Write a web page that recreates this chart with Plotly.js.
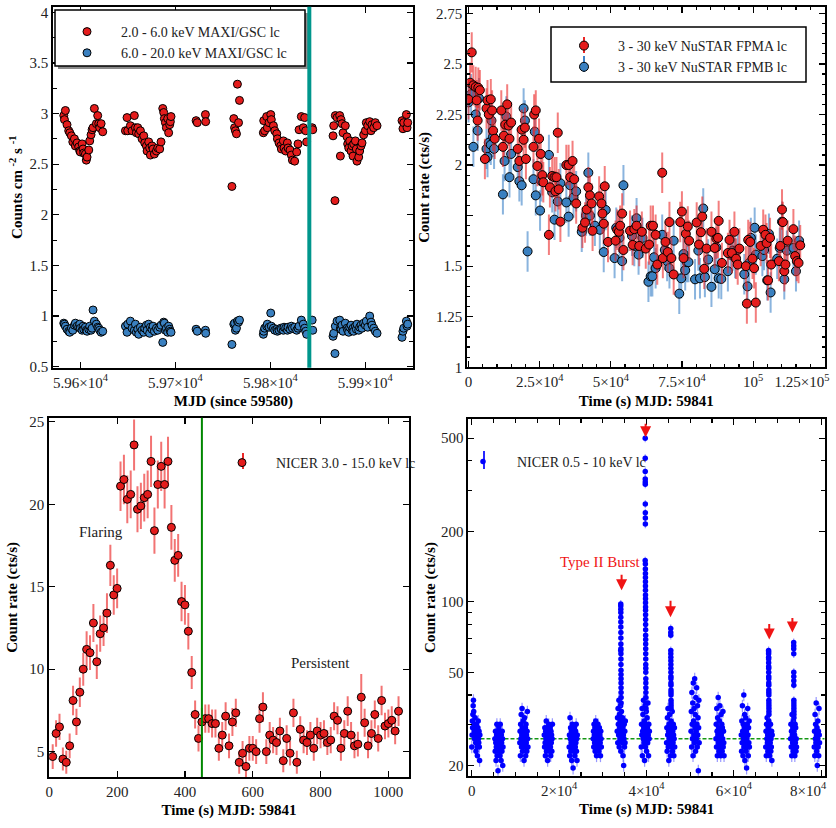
<!DOCTYPE html>
<html>
<head>
<meta charset="utf-8">
<script src="https://cdn.plot.ly/plotly-3.0.1.min.js"></script>
<style>
  html, body { margin: 0; padding: 0; background: #fff; }
  #chart { width: 836px; height: 828px; }
</style>
</head>
<body>
<div id="chart"></div>
<script>
// ---------- MAXI/GSC daily light curve (top left) ----------
const maxiMjd = [
  59582.5,59583.2,59584.2,59585.9,59587.7,59588.8,59590.5,59592.0,59593.7,59594.7,59596.5,59598.2,59599.3,59600.0,59601.8,59602.8,59603.5,59605.3,59606.2,59607.0,59608.8,59609.8,59611.2,59612.3,59613.3,59614.7,59616.8,59618.2,59619.3,59620.3,59621.8,59623.5,
  59647.4,59649.1,59649.8,59652.6,59654.4,59656.8,59657.9,59658.9,59660.4,59661.4,59663.2,59664.9,59666.7,59667.7,59669.5,59670.2,59671.9,59672.9,59673.7,59675.4,59676.5,59677.9,59680.0,59681.4,59683.5,59684.9,59686.7,59687.7,59688.4,59689.5,59690.5,59691.9,59692.9,59694.0,59694.7,59695.4,
  59721.8,59723.0,59731.6,59731.9,
  59759.5,59761.5,59762.3,59763.2,59764.3,59765.3,59766.5,59767.5,
  59792.6,59793.0,59794.0,59796.1,59796.8,59798.6,59800.4,59801.0,59803.2,59804.6,59806.7,59807.4,59809.1,59810.9,59811.6,59813.7,59814.4,59816.1,59817.9,59818.6,59820.7,59822.1,59823.2,59825.6,59827.7,59829.1,59830.2,59832.6,59834.7,59836.1,59837.2,59838.2,
  59844.0,59844.6,
  59866.0,59866.7,59868.0,59868.4,59870.2,59873.0,59873.7,59874.4,59875.4,59876.5,59878.9,59880.7,59881.4,59882.5,59883.5,59884.9,59886.0,59887.0,59887.7,59889.5,59890.5,59891.2,59893.0,59894.0,59895.4,59896.5,59898.2,59900.0,59901.0,59902.5,59904.6,59906.0,59907.0,59908.8,59910.5,59912.3,
  59938.6,59939.6,59940.4,59943.2,59943.9,59944.6
];
const maxiSoft = [
  2.98,2.94,3.03,2.89,2.83,2.81,2.78,2.72,2.75,2.68,2.71,2.67,2.63,2.62,2.70,2.65,2.61,2.60,2.54,2.57,2.64,2.73,2.79,2.84,2.86,3.05,2.90,2.98,2.90,2.86,2.90,2.82,
  2.83,2.96,2.83,2.88,2.83,2.98,2.86,2.81,2.86,2.80,2.83,2.75,2.78,2.71,2.68,2.63,2.72,2.66,2.59,2.68,2.65,2.60,2.63,2.66,2.65,2.72,3.05,3.01,2.95,2.91,2.86,2.95,2.81,2.89,2.92,2.97,
  2.93,2.91,2.99,2.92,
  2.28,2.95,2.86,2.83,2.80,3.29,2.91,3.13,
  2.81,2.93,2.83,2.97,2.86,2.91,2.99,2.94,2.88,2.83,2.80,2.75,2.71,2.68,2.65,2.73,2.66,2.63,2.71,2.66,2.64,2.59,2.54,2.53,2.62,2.70,2.84,2.97,2.86,2.96,2.83,2.72,
  2.86,2.84,
  2.78,2.88,2.14,2.98,2.96,2.98,2.58,2.94,2.90,2.81,2.88,2.77,2.70,2.66,2.73,2.63,2.68,2.58,2.70,2.73,2.65,2.53,2.57,2.63,2.68,2.71,2.79,2.83,2.91,2.88,2.92,2.83,2.89,2.86,2.91,2.88,
  2.93,2.85,2.91,2.99,2.86,2.91
];
const maxiHard = [
  0.93,0.92,0.90,0.87,0.85,0.84,0.88,0.86,0.91,0.93,0.90,0.89,0.92,0.88,0.86,0.90,0.87,0.89,0.86,0.85,0.87,0.90,0.86,0.88,1.06,0.95,0.92,0.89,0.88,0.86,0.84,0.85,
  0.90,0.84,0.92,0.95,0.88,0.86,0.92,0.84,0.87,0.82,0.89,0.86,0.84,0.88,0.91,0.86,0.92,0.83,0.89,0.87,0.90,0.85,0.88,0.86,0.89,0.91,0.74,0.94,0.93,0.86,0.88,0.84,0.90,0.87,0.85,0.84,
  0.87,0.85,0.86,0.83,
  0.72,0.92,0.93,0.86,0.88,0.95,0.94,0.96,
  0.82,0.85,0.88,0.90,0.92,0.89,1.03,0.90,0.88,0.86,0.87,0.85,0.86,0.88,0.87,0.86,0.89,0.88,0.86,0.89,0.87,0.90,0.88,0.89,0.86,0.88,0.90,0.96,0.92,0.88,0.85,0.82,
  0.96,0.86,
  0.80,0.83,0.63,0.90,0.95,0.96,0.88,0.87,0.91,0.85,0.93,0.88,0.86,0.84,0.89,0.91,0.86,0.88,0.85,0.90,0.87,0.92,0.86,0.89,0.91,0.88,0.93,0.91,0.95,0.89,1.00,0.94,0.91,0.88,0.85,0.83,
  0.79,0.85,0.88,0.95,0.90,0.92
];
const maxiMarkMjd = 59841;   // day of the NuSTAR / NICER pointings
const maxiTickVals = [59600, 59700, 59800, 59900];
const maxiTickText = ['5.96×10<sup>4</sup>', '5.97×10<sup>4</sup>', '5.98×10<sup>4</sup>', '5.99×10<sup>4</sup>'];

// ---------- NuSTAR 3-30 keV light curves (top right) ----------
const fpmaTime = [
  0,580,1150,1700,2540,2900,3230,3460,4000,5770,6340,6690,7150,7840,8300,8650,9220,11530,12100,12450,
  12900,13600,14070,14400,14990,17300,17870,18680,19370,19830,20180,22830,23060,23640,24210,24790,25370,25940,26290,28250,
  28600,29400,30200,30550,30900,31360,31700,32280,34360,35170,35740,36550,37130,37820,40010,40930,41510,42090,42660,43240,
  43580,45890,46700,47040,47500,47850,49000,51650,52230,52810,53270,53960,54420,56730,57650,58230,59030,59960,60880,62260,
  63420,63990,64800,65720,66300,68030,68260,69180,69990,70570,71260,72060,74370,74950,75520,76330,77020,77480,80140,80940,
  81630,82090,82790,83600,85320,86470,87050,87630,87860,89010,91090,91670,92470,93390,93970,94550,95130,97420,97770,98230,
  98930,99730,100300,100900,102600,103500,104300,104700,105200,105900,106300,109000,109500,110100,110400,110900,111300,112100,114100,114700,
  115300,115900,116500
];
const fpmaRate = [
  2.325,2.407,2.557,2.394,2.386,2.32,2.22,2.382,2.37,2.03,2.28,2.32,2.25,2.325,2.27,2.17,2.13,2.27,2.09,2.145,
  2.20,2.30,2.195,2.13,2.21,2.08,2.02,2.175,2.125,2.185,2.03,2.09,2.25,2.27,1.995,2.13,2.055,1.95,1.915,1.655,
  1.89,1.946,1.94,1.87,1.94,2.16,1.88,1.72,2.0,2.0,1.94,2.02,1.93,1.81,1.69,1.716,1.78,1.89,1.85,1.81,
  1.675,1.845,1.81,1.76,1.71,1.895,1.62,1.626,1.68,1.67,1.70,1.76,1.58,1.675,1.605,1.683,1.70,1.60,1.67,1.587,
  1.607,1.70,1.70,1.655,1.508,1.962,1.54,1.62,1.57,1.718,1.54,1.459,1.718,1.77,1.54,1.66,1.696,1.626,1.716,1.607,
  1.668,1.745,1.487,1.587,1.67,1.59,1.636,1.64,1.724,1.516,1.565,1.63,1.565,1.67,1.537,1.508,1.587,1.50,1.315,1.63,
  1.62,1.537,1.49,1.32,1.60,1.68,1.655,1.614,1.43,1.64,1.508,1.525,1.60,1.78,1.718,1.475,1.508,1.626,1.683,1.55,
  1.525,1.516,1.603
];
const fpmbTime = [
  0,920,1730,2540,3230,3690,6340,6690,7150,7840,8070,8650,8990,12100,12680,13260,14400,14990,17300,17870,
  18680,19370,19830,20760,22830,23290,23640,25140,25600,28250,29400,30200,31360,32280,34360,35170,35740,36900,37820,39780,
  41280,42090,42660,44390,46120,47500,48190,51310,51880,53040,53960,54420,57420,58230,59030,59730,61110,63190,63990,64570,
  65140,65720,68030,68950,69760,70570,72060,74020,74720,75520,76100,76680,77250,79560,80710,81290,82440,83020,84170,85320,
  86470,87050,87860,88780,91090,92010,92820,93620,94550,96850,98000,98580,99160,100500,100900,103200,103800,104900,105500,106100,
  108400,109300,110100,110900,111800,114100,115000,116100
];
const fpmbRate = [
  2.31,2.35,2.09,2.25,2.17,2.33,2.08,2.04,2.11,2.10,2.22,2.14,2.08,1.855,2.02,2.24,1.94,2.055,1.99,1.92,
  1.90,2.28,2.22,1.573,1.93,2.165,1.85,1.775,1.92,2.05,1.865,1.73,1.82,1.91,1.815,1.745,1.90,1.84,1.87,1.67,
  1.75,1.962,1.75,1.70,1.68,1.57,1.778,1.54,1.69,1.64,1.525,1.90,1.65,1.60,1.737,1.557,1.64,1.423,1.45,1.45,
  1.544,1.49,1.655,1.58,1.525,1.49,1.626,1.364,1.44,1.56,1.48,1.52,1.52,1.435,1.577,1.44,1.785,1.446,1.533,1.398,
  1.485,1.593,1.44,1.437,1.475,1.557,1.577,1.54,1.58,1.46,1.40,1.516,1.64,1.69,1.557,1.55,1.58,1.43,1.66,1.37,
  1.537,1.59,1.72,1.435,1.577,1.59,1.475,1.626
];
const nustarErr = 0.1;
const nustarTickVals = [0, 25000, 50000, 75000, 100000, 125000];
// the last label is padded so it stays inside the figure
const nustarTickText = ['0', '2.5×10<sup>4</sup>', '5×10<sup>4</sup>', '7.5×10<sup>4</sup>', '10<sup>5</sup>',
  '1.25×10<sup>5</sup>' + '\u00a0'.repeat(12)];
const nustarRateTicks = [1, 1.25, 1.5, 1.75, 2, 2.25, 2.5, 2.75];
const nustarRateText = ['1', '1.25', '1.5', '', '2', '2.25', '2.5', '2.75'];

// ---------- NICER 3-15 keV, 10 s bins (bottom left) ----------
const hardTime = [
  10,20,30,40,50,60,70,80,90,100,110,120,130,140,150,160,170,180,190,200,
  210,220,230,240,250,260,270,280,290,300,310,320,330,340,350,360,370,380,390,400,
  410,420,430,440,450,460,470,480,490,500,510,520,530,540,550,560,570,580,590,600,
  610,620,630,640,650,660,670,680,690,700,710,720,730,740,750,760,770,780,790,800,
  810,820,830,840,850,860,870,880,890,900,910,920,930,940,950,960,970,980,990,1000,
  1010,1020,1030
];
const hardRate = [
  4.7,6.1,6.5,4.55,4.35,5.35,8.1,6.8,8.6,10.0,11.2,11.0,12.8,10.45,12.15,12.5,13.4,16.3,14.5,14.9,
  21.1,21.5,20.3,20.6,23.6,19.7,19.9,20.4,20.6,22.6,18.4,21.2,22.3,21.2,22.6,18.6,16.6,16.9,14.1,13.9,
  12.3,9.8,7.25,5.8,6.8,7.0,7.0,6.7,6.7,5.2,6.0,7.15,5.35,6.8,7.35,4.35,4.9,4.1,5.2,5.2,
  5.0,7.0,7.7,5.0,6.0,5.7,5.55,6.25,4.45,5.8,4.9,7.35,4.35,6.35,5.7,5.55,6.0,5.2,6.25,6.0,
  6.1,5.55,5.7,7.15,6.9,5.2,6.1,7.45,6.0,5.35,5.45,8.3,6.75,5.35,6.1,7.25,5.8,8.1,6.55,6.7,
  6.9,6.25,7.45
];
const hardErr = [
  0.75,0.8,0.8,0.7,0.7,0.75,0.9,0.8,0.9,1.0,1.1,1.05,1.15,1.05,1.1,1.1,1.2,1.25,1.2,1.2,
  1.5,1.5,1.45,1.45,1.55,1.4,1.4,1.45,1.45,1.55,1.4,1.45,1.5,1.45,1.5,1.35,1.3,1.3,1.2,1.2,
  1.1,1.0,0.85,0.8,0.85,0.85,0.85,0.85,0.85,0.75,0.8,0.85,0.75,0.85,0.85,0.7,0.75,0.7,0.75,0.75,
  0.75,0.85,0.9,0.75,0.8,0.8,0.75,0.8,0.7,0.8,0.75,0.85,0.7,0.8,0.8,0.75,0.8,0.75,0.8,0.8,
  0.8,0.75,0.8,0.85,0.85,0.75,0.8,0.9,0.8,0.75,0.75,1.4,0.85,0.75,0.8,0.85,0.8,0.9,0.8,0.85,
  0.85,0.8,0.9
];
const flareEnd = 450;

// ---------- NICER 0.5-10 keV orbits (bottom right) ----------
const orbitStart = [0, 5300, 11000, 16600, 22300, 27800, 33300, 38800, 44600, 50200, 55900, 61700, 67300, 73000, 78400];
const orbitBin = 64;
const orbitRates = [
  [24,27,31,29,33,36,38,34,30,28,26,29,32,27,25,23,26,30,28,24,22,27,29,31,26,25,28,24,21,27],
  [26,23,28,25,21,24,27,30,22,25,28,19,24,26,29,23,27,25,22,30,26,24,21,27,25,23,28,26,20,24],
  [25,28,22,30,26,33,24,27,35,29,23,26,31,25,28,21,27,32,24,26,29,22,30,25,27,23,28,34,26,24],
  [27,24,29,25,22,28,26,31,23,27,25,29,21,26,28,24,30,25,27,23,26,29,24,22,28,25,27,23,26,30],
  [24,27,22,32,26,29,23,25,28,21,27,30,24,26,19.5,25,28,23,27,29,22,26,24,28,25,30,23,26,21,27],
  [26,28,24,30,27,25,29,23,27,31,25,28,22,26,29,24,27,30,25,28,23,26,29,24,27,25,22,28,26,24],
  [28,32,25,35,30,27,38,24,33,29,26,31,36,23,28,34,27,30,25,32,29,22,27,20,26,30,24,28,25,31],
  [24,30,27,35,22,28,33,26,38,29,25,31,21,27,36,24,30,28,34,23,26,32,29,25,37,27,22,30,26,28],
  [25,29,23,32,27,35,24,28,21,30,26,33,25,28,22,27,31,24,29,26,34,23,28,25,30,27,22,26,29,24],
  [28,34,24,41,30,26,37,22,45,31,27,35,25,47,29,33,23,39,28,26,43,30,24,36,27,32,19,29,38,25],
  [26,30,24,35,28,22,32,27,39,25,29,23,31,26,36,24,28,22,33,27,25,30,23,29,26,34,24,28,25,22],
  [27,23,31,25,36,28,22,30,26,40,24,29,33,21,27,25,32,23,28,19.5,26,30,24,35,27,22,29,25,31,24],
  [24,28,22,30,26,32,25,27,23,29,26,31,24,28,22,27,25,30,23,26,24,28,21,27],
  [26,30,24,28,22,33,27,25,29,23,31,26,28,24,27,22,30,25,29,23,26,24],
  [24,28,22,33,26,30,25,37,27,23,29,20,26,31,24,28,22,35,27,25]
];
// Type II bursts, 4 s bins
const burstStart = [34100, 39700, 45550, 67950, 73700];
const burstBin = 4;
const burstRates = [
  [62,98,96,93,90,86,82,78,74,70,66,63,60,57,54,51,49,47,45,43,41,39,37],
  [150,500,410,360,335,325,318,262,240,228,215,145,138,132,127,122,117,112,107,103,99,95,92,88,84,80,76,72,69,66,63,60,57,54,52,50,47,45,43,41,39,37,35],
  [77,74,72,62,60,58,56,54,52,50,48,47,45,44,42,41,40,38,37,36,35],
  [62,61,60,58,57,55,53,52,50,48,47,45,44,42,41,40,38,37,36,35,34,33],
  [67,65,63,60,50,48,46,44,38,37,36,35,34,33,32]
];
const persistentLevel = 26;
// burst markers: [time, rate at arrow tip, arrow length px]
const burstArrowTime = [34300, 39800, 45500, 68100, 73400];
const burstArrowRate = [112, 505, 86, 69, 74];
const burstArrowLen = [17, 15, 18, 17, 16];
const softTickVals = [0, 20000, 40000, 60000, 80000];
// the last label is padded so it stays inside the figure
const softTickText = ['0', '2×10<sup>4</sup>', '4×10<sup>4</sup>', '6×10<sup>4</sup>',
  '8×10<sup>4</sup>' + '\u00a0'.repeat(7)];
const softRateTicks = [20, 50, 100, 200, 500];
const softRateMinor = [30, 40, 60, 70, 80, 90, 300, 400];

// ---------- assemble ----------
const FONT = '"Liberation Serif", "DejaVu Serif", serif';
const RED = 'rgb(228,28,28)';
const BLUE = 'rgb(58,128,192)';

const orbitT = [], orbitR = [];
orbitRates.forEach((rates, k) => {
  rates.forEach((r, i) => { orbitT.push(orbitStart[k] + i * orbitBin); orbitR.push(r); });
});
const burstT = [], burstR = [];
burstRates.forEach((rates, k) => {
  rates.forEach((r, i) => { burstT.push(burstStart[k] + i * burstBin); burstR.push(r); });
});

const W = 836, H = 828;
const px = x => x / W;
const py = y => 1 - y / H;
const pad = '\u00a0\u00a0\u00a0\u00a0';

const dotRed = size => ({ color: RED, size: size, line: { color: '#000', width: 1 } });
const dotBlue = size => ({ color: BLUE, size: size, line: { color: '#000', width: 1 } });

const traces = [
  { type: 'scatter', mode: 'markers', x: maxiMjd, y: maxiSoft, xaxis: 'x', yaxis: 'y',
    name: pad + '2.0 - 6.0 keV MAXI/GSC lc', legend: 'legend', marker: dotRed(8) },
  { type: 'scatter', mode: 'markers', x: maxiMjd, y: maxiHard, xaxis: 'x', yaxis: 'y',
    name: pad + '6.0 - 20.0 keV MAXI/GSC lc', legend: 'legend', marker: dotBlue(8) },

  { type: 'scatter', mode: 'markers', x: fpmbTime, y: fpmbRate, xaxis: 'x2', yaxis: 'y2',
    name: pad + '3 - 30 keV NuSTAR FPMB lc', legend: 'legend2', legendrank: 2, marker: dotBlue(9),
    error_y: { type: 'constant', value: nustarErr, color: 'rgba(60,130,200,0.6)', thickness: 2, width: 0 } },
  { type: 'scatter', mode: 'markers', x: fpmaTime, y: fpmaRate, xaxis: 'x2', yaxis: 'y2',
    name: pad + '3 - 30 keV NuSTAR FPMA lc', legend: 'legend2', legendrank: 1, marker: dotRed(9),
    error_y: { type: 'constant', value: nustarErr, color: 'rgba(235,40,40,0.6)', thickness: 2, width: 0 } },

  { type: 'scatter', mode: 'markers', x: hardTime, y: hardRate, xaxis: 'x3', yaxis: 'y3',
    name: pad + 'NICER 3.0 - 15.0 keV lc', legend: 'legend3', marker: dotRed(8),
    error_y: { type: 'data', array: hardErr, color: 'rgba(235,40,40,0.65)', thickness: 2, width: 0 } },

  { type: 'scatter', mode: 'lines', x: [-750, 80800], y: [persistentLevel, persistentLevel],
    xaxis: 'x4', yaxis: 'y4', showlegend: false, hoverinfo: 'skip',
    line: { color: 'rgb(20,150,20)', width: 1.5, dash: '4px,2px' } },
  { type: 'scatter', mode: 'markers', x: orbitT, y: orbitR, xaxis: 'x4', yaxis: 'y4',
    name: pad + 'NICER 0.5 - 10 keV lc', legend: 'legend4',
    marker: { color: 'rgb(0,0,255)', size: 5.5 },
    error_y: { type: 'percent', value: 6, color: 'rgba(70,70,255,0.55)', thickness: 1.2, width: 0 } },
  { type: 'scatter', mode: 'markers', x: burstT, y: burstR, xaxis: 'x4', yaxis: 'y4', showlegend: false,
    marker: { color: 'rgb(0,0,255)', size: 5.5 },
    error_y: { type: 'percent', value: 4, color: 'rgba(70,70,255,0.55)', thickness: 1.2, width: 0 } }
];

function frame(extra) {
  return Object.assign({
    showline: true, linecolor: '#000', linewidth: 2, mirror: 'allticks',
    ticks: 'inside', ticklen: 6, tickwidth: 1.2, tickcolor: '#000',
    showgrid: false, zeroline: false, automargin: false,
    tickfont: { family: FONT, size: 15, color: '#222' }
  }, extra);
}
const titleFont = { family: FONT, size: 15, color: '#000', weight: 'bold' };

const legendBase = {
  xanchor: 'left', yanchor: 'top', bgcolor: 'rgba(0,0,0,0)', borderwidth: 0,
  font: { family: FONT, size: 14, color: '#222' }, tracegroupgap: 0, traceorder: 'normal'
};

const arrows = burstArrowTime.map((t, i) => ({
  xref: 'x4', yref: 'y4', x: t, y: Math.log10(burstArrowRate[i]), ax: 0, ay: -burstArrowLen[i],
  text: '', showarrow: true, arrowhead: 2, arrowsize: 1.1, arrowwidth: 2, arrowcolor: 'rgb(240,20,20)'
}));

// small vertical error-bar glyphs behind the legend symbols
const legendBar = (x, y, half, color) => ({
  type: 'line', xref: 'paper', yref: 'paper', x0: px(x), x1: px(x), y0: py(y - half), y1: py(y + half),
  line: { color: color, width: 2 }, layer: 'above'
});

const layout = {
  width: W, height: H,
  margin: { l: 0, r: 0, t: 0, b: 0 },
  paper_bgcolor: '#fff', plot_bgcolor: 'rgba(0,0,0,0)',
  showlegend: true,
  xaxis: frame({ domain: [0.0638, 0.4944], anchor: 'y', range: [59571.5, 59950.5],
    tickmode: 'array', tickvals: maxiTickVals, ticktext: maxiTickText,
    title: { text: 'MJD (since 59580)', font: titleFont, standoff: 6 } }),
  yaxis: frame({ domain: [0.5559, 0.9919], anchor: 'x', range: [0.49, 4.055], dtick: 0.5, tick0: 0,
    minor: { dtick: 0.25, ticks: 'inside', ticklen: 4, tickcolor: '#000' },
    title: { text: 'Counts cm\u00a0<sup>-2</sup>\u00a0s\u00a0<sup>-1</sup>', font: titleFont, standoff: 3 } }),

  xaxis2: frame({ domain: [0.559, 0.9872], anchor: 'y2', range: [-400, 125300],
    tickmode: 'array', tickvals: nustarTickVals, ticktext: nustarTickText, ticklabeloverflow: 'allow',
    minor: { dtick: 5000, ticks: 'inside', ticklen: 3, tickcolor: '#000' },
    title: { text: 'Time (s) MJD: 59841', font: titleFont, standoff: 6 } }),
  yaxis2: frame({ domain: [0.5564, 0.9912], anchor: 'x2', range: [1, 2.78],
    tickmode: 'array', tickvals: nustarRateTicks, ticktext: nustarRateText,
    minor: { dtick: 0.05, ticks: 'inside', ticklen: 3, tickcolor: '#000' },
    title: { text: 'Count rate (cts/s)', font: titleFont, standoff: 3 } }),

  xaxis3: frame({ domain: [0.059, 0.4889], anchor: 'y3', range: [0, 1060], dtick: 200, tick0: 0,
    title: { text: 'Time (s) MJD: 59841', font: titleFont, standoff: 6 } }),
  yaxis3: frame({ domain: [0.0616, 0.4955], anchor: 'x3', range: [3.46, 25.25], dtick: 5, tick0: 0,
    title: { text: 'Count rate (cts/s)', font: titleFont, standoff: 8 } }),

  xaxis4: frame({ domain: [0.5604, 0.9865], anchor: 'y4', range: [-750, 80800],
    tickmode: 'array', tickvals: softTickVals, ticktext: softTickText, ticklabeloverflow: 'allow',
    minor: { dtick: 5000, tick0: 0, ticks: 'inside', ticklen: 4, tickcolor: '#000' },
    title: { text: 'Time (s) MJD: 59841', font: titleFont, standoff: 6 } }),
  yaxis4: frame({ domain: [0.0632, 0.4936], anchor: 'x4', type: 'log',
    range: [Math.log10(18.1), Math.log10(602)],
    tickmode: 'array', tickvals: softRateTicks, ticktext: softRateTicks.map(String),
    minor: { tickmode: 'array', tickvals: softRateMinor, ticks: 'inside', ticklen: 4, tickcolor: '#000' },
    title: { text: 'Count rate (cts/s)', font: titleFont, standoff: 2 } }),

  legend: Object.assign({}, legendBase, { x: px(67), y: py(16) }),
  legend2: Object.assign({}, legendBase, { x: px(564), y: py(30) }),
  legend3: Object.assign({}, legendBase, { x: px(222), y: py(447) }),
  legend4: Object.assign({}, legendBase, { x: px(463), y: py(446) }),

  shapes: [
    // legend frames
    { type: 'rect', xref: 'paper', yref: 'paper', x0: px(58), x1: px(308), y0: py(13), y1: py(69),
      fillcolor: '#8a8a8a', line: { width: 0 }, layer: 'above' },
    { type: 'rect', xref: 'paper', yref: 'paper', x0: px(55), x1: px(305), y0: py(10), y1: py(66),
      fillcolor: '#fff', line: { color: '#000', width: 1.5 }, layer: 'above' },
    { type: 'rect', xref: 'paper', yref: 'paper', x0: px(551), x1: px(806), y0: py(27), y1: py(82),
      fillcolor: '#fff', line: { color: '#000', width: 1.5 }, layer: 'above' },
    legendBar(584, 45, 8, 'rgb(235,40,40)'),
    legendBar(584, 64, 8, 'rgb(60,130,200)'),
    legendBar(243, 461, 8, 'rgb(235,40,40)'),
    legendBar(484, 460, 9, 'rgb(40,40,255)'),
    // date of the pointed observations
    { type: 'line', xref: 'x', yref: 'y domain', x0: maxiMarkMjd, x1: maxiMarkMjd, y0: 0, y1: 1,
      line: { color: 'rgb(0,150,140)', width: 4 } },
    // end of the flare
    { type: 'line', xref: 'x3', yref: 'y3 domain', x0: flareEnd, x1: flareEnd, y0: 0, y1: 1,
      line: { color: 'rgb(0,135,0)', width: 2 } }
  ],

  annotations: [
    { xref: 'x3', yref: 'y3', x: 152, y: 18.3, text: 'Flaring', showarrow: false,
      font: { family: FONT, size: 15, color: '#222' } },
    { xref: 'x3', yref: 'y3', x: 800, y: 10.4, text: 'Persistent', showarrow: false,
      font: { family: FONT, size: 15, color: '#222' } },
    { xref: 'x4', yref: 'y4', x: 29500, y: Math.log10(148), text: 'Type II Burst', showarrow: false,
      font: { family: FONT, size: 15, color: 'rgb(240,20,20)' } }
  ].concat(arrows)
};

Plotly.newPlot('chart', traces, layout, { staticPlot: true, displayModeBar: false });
</script>
</body>
</html>
